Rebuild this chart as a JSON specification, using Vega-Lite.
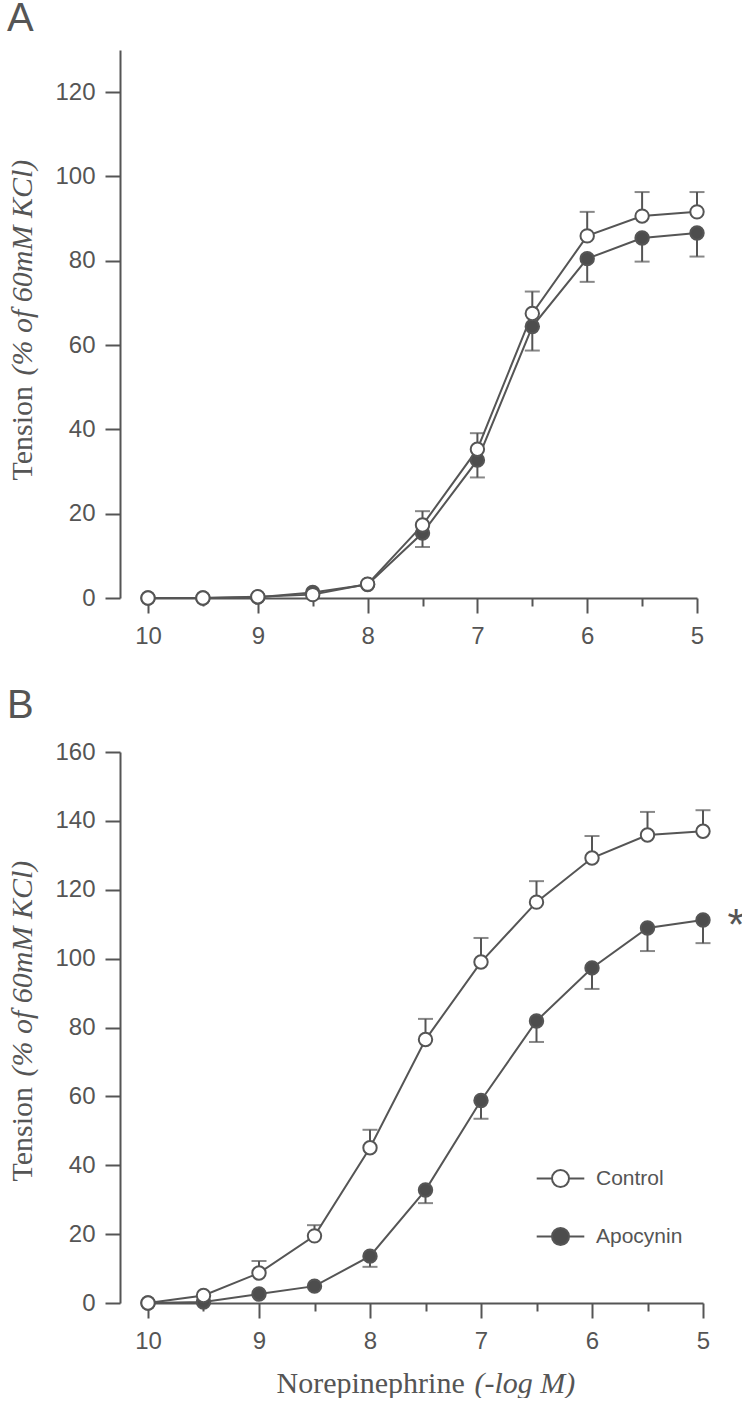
{
  "$schema": "https://vega.github.io/schema/vega-lite/v6.json",
  "background": "white",
  "padding": {"left": 7, "top": -1, "right": 0, "bottom": 0},
  "config": {
    "view": {"stroke": null},
    "axis": {
      "grid": false,
      "domainColor": "#555555",
      "domainWidth": 2,
      "tickColor": "#555555",
      "tickWidth": 2,
      "tickSize": 15,
      "labelColor": "#555555",
      "labelFont": "Liberation Sans",
      "labelFontSize": 24,
      "labelFlush": false,
      "labelOverlap": false,
      "titleColor": "#555555",
      "titleFont": "Liberation Serif",
      "titleFontSize": 30,
      "titleFontWeight": "normal"
    },
    "title": {"font": "Liberation Sans", "fontSize": 40, "fontWeight": "normal", "color": "#555555", "anchor": "start", "frame": "bounds", "baseline": "alphabetic"}
  },
  "datasets": {
    "a": [
      {"group": "Apocynin", "x": 10, "y": 0, "yerr": null},
      {"group": "Apocynin", "x": 9.5, "y": 0, "yerr": null},
      {"group": "Apocynin", "x": 9, "y": 0.2, "yerr": null},
      {"group": "Apocynin", "x": 8.5, "y": 1.3, "yerr": null},
      {"group": "Apocynin", "x": 8, "y": 3.2, "yerr": null},
      {"group": "Apocynin", "x": 7.5, "y": 15.4, "yerr": 12.1},
      {"group": "Apocynin", "x": 7, "y": 32.7, "yerr": 28.6},
      {"group": "Apocynin", "x": 6.5, "y": 64.4, "yerr": 58.7},
      {"group": "Apocynin", "x": 6, "y": 80.5, "yerr": 75.0},
      {"group": "Apocynin", "x": 5.5, "y": 85.4, "yerr": 79.8},
      {"group": "Apocynin", "x": 5, "y": 86.6, "yerr": 81.0},
      {"group": "Control", "x": 10, "y": 0, "yerr": null},
      {"group": "Control", "x": 9.5, "y": 0, "yerr": null},
      {"group": "Control", "x": 9, "y": 0.3, "yerr": null},
      {"group": "Control", "x": 8.5, "y": 0.8, "yerr": null},
      {"group": "Control", "x": 8, "y": 3.3, "yerr": null},
      {"group": "Control", "x": 7.5, "y": 17.3, "yerr": 20.6},
      {"group": "Control", "x": 7, "y": 35.3, "yerr": 39.1},
      {"group": "Control", "x": 6.5, "y": 67.5, "yerr": 72.7},
      {"group": "Control", "x": 6, "y": 85.9, "yerr": 91.6},
      {"group": "Control", "x": 5.5, "y": 90.6, "yerr": 96.3},
      {"group": "Control", "x": 5, "y": 91.6, "yerr": 96.3}
    ],
    "b": [
      {"group": "Apocynin", "x": 10, "y": 0, "yerr": null},
      {"group": "Apocynin", "x": 9.5, "y": 0.3, "yerr": null},
      {"group": "Apocynin", "x": 9, "y": 2.6, "yerr": null},
      {"group": "Apocynin", "x": 8.5, "y": 4.9, "yerr": null},
      {"group": "Apocynin", "x": 8, "y": 13.6, "yerr": 10.5},
      {"group": "Apocynin", "x": 7.5, "y": 32.8, "yerr": 29.0},
      {"group": "Apocynin", "x": 7, "y": 58.8, "yerr": 53.5},
      {"group": "Apocynin", "x": 6.5, "y": 81.9, "yerr": 75.8},
      {"group": "Apocynin", "x": 6, "y": 97.3, "yerr": 91.2},
      {"group": "Apocynin", "x": 5.5, "y": 108.9, "yerr": 102.2},
      {"group": "Apocynin", "x": 5, "y": 111.2, "yerr": 104.5},
      {"group": "Control", "x": 10, "y": 0, "yerr": null},
      {"group": "Control", "x": 9.5, "y": 2.2, "yerr": null},
      {"group": "Control", "x": 9, "y": 8.7, "yerr": 12.2},
      {"group": "Control", "x": 8.5, "y": 19.5, "yerr": 22.6},
      {"group": "Control", "x": 8, "y": 45.1, "yerr": 50.3},
      {"group": "Control", "x": 7.5, "y": 76.5, "yerr": 82.5},
      {"group": "Control", "x": 7, "y": 99.0, "yerr": 106.0},
      {"group": "Control", "x": 6.5, "y": 116.4, "yerr": 122.5},
      {"group": "Control", "x": 6, "y": 129.2, "yerr": 135.6},
      {"group": "Control", "x": 5.5, "y": 135.9, "yerr": 142.6},
      {"group": "Control", "x": 5, "y": 137.0, "yerr": 143.1}
    ],
    "star": [
      {"x": 5, "y": 111.2, "label": "*"}
    ]
  },
  "resolve": {"scale": {"fill": "independent"}, "legend": {"fill": "independent"}},
  "spacing": 38,
  "vconcat": [
    {
      "title": {"text": "A", "offset": 11},
      "width": 549,
      "height": 548,
      "data": {"name": "a"},
      "resolve": {"axis": {"x": "independent", "y": "independent"}},
      "layer": [
        {
          "mark": {"type": "line", "color": "#555555", "strokeWidth": 2},
          "encoding": {
            "x": {"field": "x", "type": "quantitative", "scale": {"domain": [5, 10], "reverse": true, "nice": false, "zero": false},
                  "axis": {"orient": "bottom", "values": [10, 9, 8, 7, 6, 5], "format": "d", "labelPadding": 11, "title": null}},
            "y": {"field": "y", "type": "quantitative", "scale": {"domain": [0, 130], "nice": false},
                  "axis": {"orient": "left", "offset": 28, "values": [0, 20, 40, 60, 80, 100, 120], "format": "d", "labelPadding": 10,
                           "title": "Tension", "titleAngle": -90, "titleAlign": "left", "titleBaseline": "alphabetic", "titleX": -89, "titleY": 430}},
            "detail": {"field": "group"}
          }
        },
        {
          "transform": [{"filter": "datum.yerr != null"}],
          "mark": {"type": "rule", "color": "#555555", "strokeWidth": 2},
          "encoding": {
            "x": {"field": "x", "type": "quantitative",
                  "axis": {"orient": "bottom", "values": [9.5, 8.5, 7.5, 6.5, 5.5], "tickSize": 8, "labels": false, "domain": false, "title": null}},
            "y": {"field": "y", "type": "quantitative",
                  "axis": {"orient": "left", "offset": 28, "domain": false, "ticks": false, "labels": false,
                           "title": "(% of 60mM KCl)", "titleFontStyle": "italic", "titleAngle": -90, "titleAlign": "left", "titleBaseline": "alphabetic", "titleX": -89, "titleY": 325}},
            "y2": {"field": "yerr"}
          }
        },
        {
          "transform": [{"filter": "datum.yerr != null"}],
          "mark": {"type": "tick", "orient": "horizontal", "color": "#555555", "size": 15, "thickness": 2},
          "encoding": {
            "x": {"field": "x", "type": "quantitative", "axis": null},
            "y": {"field": "yerr", "type": "quantitative", "axis": null}
          }
        },
        {
          "mark": {"type": "circle", "size": 180, "stroke": "#555555", "strokeWidth": 2, "opacity": 1},
          "encoding": {
            "x": {"field": "x", "type": "quantitative", "axis": null},
            "y": {"field": "y", "type": "quantitative", "axis": null},
            "fill": {"field": "group", "type": "nominal", "scale": {"domain": ["Control", "Apocynin"], "range": ["#ffffff", "#4d4d4d"]}, "legend": null}
          }
        }
      ]
    },
    {
      "title": {"text": "B", "offset": 14},
      "width": 555,
      "height": 551,
      "data": {"name": "b"},
      "resolve": {"axis": {"x": "independent", "y": "independent"}},
      "layer": [
        {
          "mark": {"type": "line", "color": "#555555", "strokeWidth": 2},
          "encoding": {
            "x": {"field": "x", "type": "quantitative", "scale": {"domain": [5, 10], "reverse": true, "nice": false, "zero": false},
                  "axis": {"orient": "bottom", "values": [10, 9, 8, 7, 6, 5], "format": "d", "labelPadding": 11,
                           "title": "Norepinephrine", "titleAlign": "left", "titleBaseline": "alphabetic", "titleX": 128, "titleY": 89}},
            "y": {"field": "y", "type": "quantitative", "scale": {"domain": [0, 160], "nice": false},
                  "axis": {"orient": "left", "offset": 28, "values": [0, 20, 40, 60, 80, 100, 120, 140, 160], "format": "d", "labelPadding": 10,
                           "title": "Tension", "titleAngle": -90, "titleAlign": "left", "titleBaseline": "alphabetic", "titleX": -89, "titleY": 429}},
            "detail": {"field": "group"}
          }
        },
        {
          "transform": [{"filter": "datum.yerr != null"}],
          "mark": {"type": "rule", "color": "#555555", "strokeWidth": 2},
          "encoding": {
            "x": {"field": "x", "type": "quantitative",
                  "axis": {"orient": "bottom", "values": [9.5, 8.5, 7.5, 6.5, 5.5], "tickSize": 8, "labels": false, "domain": false,
                           "title": "(-log M)", "titleFontStyle": "italic", "titleAlign": "left", "titleBaseline": "alphabetic", "titleX": 326, "titleY": 89}},
            "y": {"field": "y", "type": "quantitative",
                  "axis": {"orient": "left", "offset": 28, "domain": false, "ticks": false, "labels": false,
                           "title": "(% of 60mM KCl)", "titleFontStyle": "italic", "titleAngle": -90, "titleAlign": "left", "titleBaseline": "alphabetic", "titleX": -89, "titleY": 324}},
            "y2": {"field": "yerr"}
          }
        },
        {
          "transform": [{"filter": "datum.yerr != null"}],
          "mark": {"type": "tick", "orient": "horizontal", "color": "#555555", "size": 15, "thickness": 2},
          "encoding": {
            "x": {"field": "x", "type": "quantitative", "axis": null},
            "y": {"field": "yerr", "type": "quantitative", "axis": null}
          }
        },
        {
          "mark": {"type": "circle", "size": 180, "stroke": "#555555", "strokeWidth": 2, "opacity": 1},
          "encoding": {
            "x": {"field": "x", "type": "quantitative", "axis": null},
            "y": {"field": "y", "type": "quantitative", "axis": null},
            "fill": {"field": "group", "type": "nominal", "scale": {"domain": ["Control", "Apocynin"], "range": ["#ffffff", "#4d4d4d"]},
                     "legend": {"orient": "none", "legendX": 402, "legendY": 416, "title": null,
                                "symbolType": "M-2.8,0L-1,0M1,0L2.8,0M-1,0A1,1,0,1,1,1,0A1,1,0,1,1,-1,0Z",
                                "symbolSize": 289, "symbolStrokeColor": "#555555", "symbolStrokeWidth": 2,
                                "labelFont": "Liberation Sans", "labelFontSize": 21, "labelColor": "#555555", "labelOffset": 25, "rowPadding": 33}}
          }
        },
        {
          "data": {"name": "star"},
          "mark": {"type": "text", "font": "Liberation Sans", "fontSize": 44, "color": "#555555", "align": "center", "baseline": "alphabetic", "dx": 33, "dy": 20},
          "encoding": {
            "x": {"field": "x", "type": "quantitative", "axis": null},
            "y": {"field": "y", "type": "quantitative", "axis": null},
            "text": {"field": "label"}
          }
        }
      ]
    }
  ]
}
